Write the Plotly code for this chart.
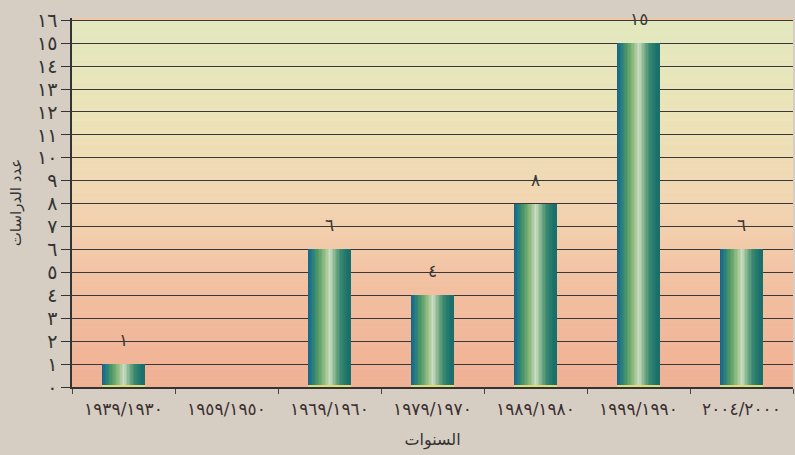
import plotly.graph_objects as go

# ---- data ----
categories = ["١٩٣٩/١٩٣٠", "١٩٥٩/١٩٥٠", "١٩٦٩/١٩٦٠", "١٩٧٩/١٩٧٠",
              "١٩٨٩/١٩٨٠", "١٩٩٩/١٩٩٠", "٢٠٠٤/٢٠٠٠"]
values = [1, 0, 6, 4, 8, 15, 6]
y_tickvals = list(range(0, 17))
x_title = "السنوات"
y_title = "عدد الدراسات"

AR = str.maketrans("0123456789", "٠١٢٣٤٥٦٧٨٩")
def ar(n):
    return str(n).translate(AR)

FONT = "DejaVu Sans"

def lerp(c1, c2, t):
    return tuple(c1[k] + (c2[k] - c1[k]) * t for k in range(3))

def grad(stops, t):
    for (p0, c0), (p1, c1) in zip(stops, stops[1:]):
        if p0 <= t <= p1:
            return lerp(c0, c1, (t - p0) / (p1 - p0) if p1 > p0 else 0)
    return stops[-1][1]

def rgb(c):
    return "rgb(%d,%d,%d)" % tuple(int(round(v)) for v in c)

fig = go.Figure()

# bar gradient built from vertical strips
bar_w = 0.41
N = 30
bar_stops = [
    (0.00, (22, 95, 140)),
    (0.07, (30, 118, 135)),
    (0.22, (75, 150, 100)),
    (0.40, (150, 190, 130)),
    (0.52, (205, 222, 200)),
    (0.62, (140, 185, 145)),
    (0.78, (55, 135, 110)),
    (0.95, (25, 112, 108)),
    (1.00, (28, 110, 100)),
]
sw = bar_w / N
for i in range(N):
    t = (i + 0.5) / N
    fig.add_trace(go.Bar(
        x=categories, y=values,
        width=sw * 1.2, offset=-bar_w / 2 + i * sw,
        marker=dict(color=rgb(grad(bar_stops, t)), line=dict(width=0)),
        hoverinfo="skip", showlegend=False,
    ))
# thin yellow base of bars
fig.add_trace(go.Bar(
    x=categories, y=[min(v, 0.08) for v in values],
    width=bar_w, offset=-bar_w / 2,
    marker=dict(color="rgb(226,220,120)", line=dict(width=0)),
    hoverinfo="skip", showlegend=False,
))

# value labels
for c, v in zip(categories, values):
    if v > 0:
        fig.add_annotation(x=c, y=v, text=ar(v), showarrow=False,
                           yshift=24, font=dict(family=FONT, size=17, color="#3a3a3a"))

# background vertical gradient in plot area
bg_stops = [
    (0.0, (240, 176, 148)),
    (4.0, (242, 190, 160)),
    (8.0, (242, 213, 178)),
    (12.0, (235, 228, 184)),
    (16.2, (226, 233, 192)),
]
shapes = []
step = 0.2
nb = int(16.2 / step)
for k in range(nb):
    y0 = k * step
    y1 = y0 + step
    col = rgb(grad(bg_stops, y0 + step / 2))
    shapes.append(dict(type="rect", xref="paper", yref="y", x0=0, x1=1,
                       y0=y0, y1=y1 + 0.01, fillcolor=col, line=dict(width=0),
                       layer="below"))

fig.update_layout(
    width=795, height=455,
    margin=dict(l=72, r=2, t=18, b=68),
    paper_bgcolor="#d6cdc3",
    plot_bgcolor="#f0c8a8",
    barmode="overlay",
    bargap=0,
    shapes=shapes,
    font=dict(family=FONT, color="#333333"),
    xaxis=dict(
        type="category",
        tickson="boundaries",
        ticks="outside", ticklen=5, tickcolor="#444444", tickwidth=1.2,
        showline=True, linecolor="#333333", linewidth=1.5,
        showgrid=False,
        ticklabelstandoff=6,
        tickfont=dict(family=FONT, size=17, color="#3a3030"),
        title=dict(text=x_title, font=dict(family=FONT, size=16, color="#333333"), standoff=16),
        range=[-0.5, len(categories) - 0.5],
    ),
    yaxis=dict(
        range=[0, 16.1],
        tickvals=y_tickvals,
        ticktext=[ar(v) for v in y_tickvals],
        ticks="outside", ticklen=9, tickcolor="#333333", tickwidth=1.3,
        showline=True, linecolor="#333333", linewidth=1.5,
        showgrid=True, gridcolor="#383838", gridwidth=1.4,
        zeroline=False,
        tickfont=dict(family=FONT, size=19, color="#333333"),
        title=dict(text=y_title, font=dict(family=FONT, size=15, color="#333333"), standoff=12),
    ),
)

fig.write_html("out.html", config={"displayModeBar": False},
               post_script="document.body.style.margin='0';")
